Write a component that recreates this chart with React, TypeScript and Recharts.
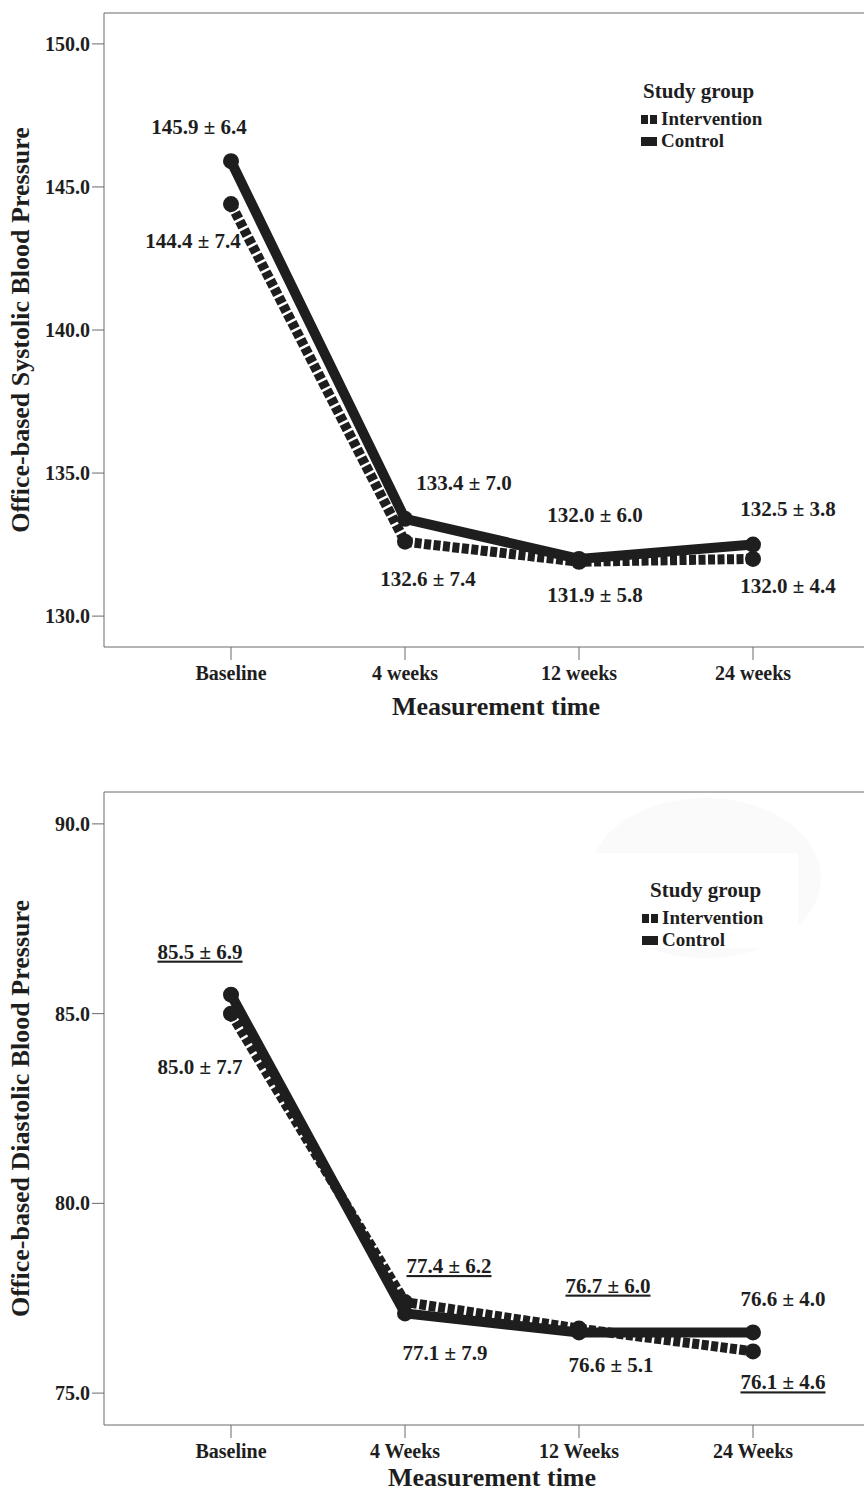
import { LabelList, Legend, Line, LineChart, ReferenceLine, XAxis, YAxis } from 'recharts'

const SERIF = '"Liberation Serif", "Times New Roman", Times, serif'
const INK = '#1e1e1e'
const AXIS_GREY = '#6a6a6a'

const groups = ['Intervention', 'Control']

// Systolic panel
const sbpTimes = ['Baseline', '4 weeks', '12 weeks', '24 weeks']
const sbpIntervention = [144.4, 132.6, 131.9, 132.0]
const sbpInterventionSd = [7.4, 7.4, 5.8, 4.4]
const sbpControl = [145.9, 133.4, 132.0, 132.5]
const sbpControlSd = [6.4, 7.0, 6.0, 3.8]
const sbpTicks = [130, 135, 140, 145, 150]

// Diastolic panel
const dbpTimes = ['Baseline', '4 Weeks', '12 Weeks', '24 Weeks']
const dbpIntervention = [85.0, 77.4, 76.7, 76.1]
const dbpInterventionSd = [7.7, 6.2, 6.0, 4.6]
const dbpControl = [85.5, 77.1, 76.6, 76.6]
const dbpControlSd = [6.9, 7.9, 5.1, 4.0]
const dbpTicks = [75, 80, 85, 90]
// underlined annotations in the diastolic panel
const dbpInterventionUnderline = [false, true, true, true]
const dbpControlUnderline = [true, false, false, false]

// where each "mean ± sd" note sits, relative to its point (text centre)
type Offset = [number, number]
const sbpInterventionOffsets: Offset[] = [[-38, 37], [23, 37], [16, 33], [35, 27]]
const sbpControlOffsets: Offset[] = [[-32, -34], [59, -36], [16, -44], [35, -36]]
const dbpInterventionOffsets: Offset[] = [[-31, 53], [44, -36], [29, -43], [30, 31]]
const dbpControlOffsets: Offset[] = [[-31, -43], [40, 40], [32, 33], [30, -33]]

const buildRows = (times: string[], intervention: number[], control: number[]) =>
  times.map((time, i) => ({ time, intervention: intervention[i], control: control[i] }))

const valueLabel =
  (values: number[], sds: number[], offsets: Offset[], underline?: boolean[]) => (props: any) => {
    const { x, y, index } = props
    if (x == null || y == null || index == null) return null
    const [dx, dy] = offsets[index]
    return (
      <text
        x={x + dx}
        y={y + dy + 7}
        textAnchor="middle"
        fontFamily={SERIF}
        fontSize={21}
        fontWeight="bold"
        fill={INK}
        textDecoration={underline?.[index] ? 'underline' : undefined}
      >
        {`${values[index].toFixed(1)} ± ${sds[index].toFixed(1)}`}
      </text>
    )
  }

function XTitle(props: any) {
  const vb = props.viewBox ?? {}
  const x = (vb.x ?? 104) + (vb.width ?? 760) / 2 + props.shift
  const y = (vb.y ?? 0) + props.drop
  return (
    <text x={x} y={y} textAnchor="middle" fontFamily={SERIF} fontSize={26} fontWeight="bold" fill={INK}>
      {props.title}
    </text>
  )
}

function YTitle(props: any) {
  const vb = props.viewBox ?? {}
  const x = (vb.x ?? 0) + 29
  const cy = (vb.y ?? 13) + (vb.height ?? 634) / 2
  return (
    <text
      x={x}
      y={cy}
      transform={`rotate(-90, ${x}, ${cy})`}
      textAnchor="middle"
      fontFamily={SERIF}
      fontSize={26}
      fontWeight="bold"
      fill={INK}
    >
      {props.title}
    </text>
  )
}

function Swatch({ dashed }: { dashed: boolean }) {
  if (dashed) {
    return (
      <span style={{ display: 'inline-flex', gap: 2, width: 16 }}>
        <span style={{ width: 7, height: 9, background: INK }} />
        <span style={{ width: 7, height: 9, background: INK }} />
      </span>
    )
  }
  return <span style={{ display: 'inline-block', width: 16, height: 9, background: INK }} />
}

function StudyGroupLegend({ payload, indent }: any) {
  const items = [...(payload ?? [])].sort(
    (a: any, b: any) => groups.indexOf(a.value) - groups.indexOf(b.value),
  )
  return (
    <div style={{ fontFamily: SERIF, fontWeight: 'bold', color: INK, width: 160, textAlign: 'left' }}>
      <div style={{ fontSize: 21, lineHeight: '24px', paddingLeft: indent, marginBottom: 5 }}>Study group</div>
      {items.map((item: any) => (
        <div
          key={item.value}
          style={{ display: 'flex', alignItems: 'center', fontSize: 19, lineHeight: '22px' }}
        >
          <Swatch dashed={item.value === 'Intervention'} />
          <span style={{ marginLeft: 4 }}>{item.value}</span>
        </div>
      ))}
    </div>
  )
}

type PanelProps = {
  times: string[]
  intervention: number[]
  interventionSd: number[]
  control: number[]
  controlSd: number[]
  interventionOffsets: Offset[]
  controlOffsets: Offset[]
  interventionUnderline?: boolean[]
  controlUnderline?: boolean[]
  ticks: number[]
  domain: [number, number]
  yTitle: string
  height: number
  axisHeight: number
  bottom: number
  xTitleDrop: number
  xTitleShift: number
  legendLeft: number
  legendTop: number
  legendIndent: number
}

function Panel(p: PanelProps) {
  const data = buildRows(p.times, p.intervention, p.control)
  const tickStyle = { fontFamily: SERIF, fontSize: 20, fontWeight: 'bold', fill: INK }

  return (
    <LineChart width={864} height={p.height} data={data} margin={{ top: 13, right: 0, bottom: p.bottom, left: 0 }}>
      <XAxis
        dataKey="time"
        padding={{ left: 127, right: 111 }}
        height={p.axisHeight}
        interval={0}
        tickSize={13}
        tickMargin={6}
        axisLine={{ stroke: AXIS_GREY }}
        tickLine={{ stroke: AXIS_GREY }}
        tick={tickStyle}
        label={<XTitle title="Measurement time" drop={p.xTitleDrop} shift={p.xTitleShift} />}
      />
      <YAxis
        type="number"
        domain={p.domain}
        allowDataOverflow
        ticks={p.ticks}
        tickFormatter={(v: number) => v.toFixed(1)}
        width={104}
        tickSize={12}
        tickMargin={2}
        axisLine={{ stroke: AXIS_GREY }}
        tickLine={{ stroke: AXIS_GREY }}
        tick={tickStyle}
        label={<YTitle title={p.yTitle} />}
      />
      <ReferenceLine y={p.domain[1]} stroke={AXIS_GREY} />
      <Legend
        layout="vertical"
        align="center"
        verticalAlign="middle"
        content={<StudyGroupLegend indent={p.legendIndent} />}
        wrapperStyle={{ left: p.legendLeft, top: p.legendTop, width: 160 }}
      />
      <Line
        dataKey="intervention"
        name="Intervention"
        stroke={INK}
        strokeWidth={10}
        strokeDasharray="7 2.5"
        dot={{ r: 8, fill: INK, stroke: 'none', strokeWidth: 0 }}
        activeDot={false}
        isAnimationActive={false}
      >
        <LabelList
          dataKey="intervention"
          content={valueLabel(p.intervention, p.interventionSd, p.interventionOffsets, p.interventionUnderline)}
        />
      </Line>
      <Line
        dataKey="control"
        name="Control"
        stroke={INK}
        strokeWidth={10}
        dot={{ r: 8, fill: INK, stroke: 'none', strokeWidth: 0 }}
        activeDot={false}
        isAnimationActive={false}
      >
        <LabelList
          dataKey="control"
          content={valueLabel(p.control, p.controlSd, p.controlOffsets, p.controlUnderline)}
        />
      </Line>
    </LineChart>
  )
}

export default function App() {
  return (
    <div style={{ position: 'absolute', left: 0, top: 0, width: 864, height: 1493, background: '#fff' }}>
      {/* faint smudge behind the lower legend, as in the scan */}
      <svg width={864} height={1493} style={{ position: 'absolute', left: 0, top: 0 }}>
        <ellipse cx={705} cy={878} rx={116} ry={80} fill="#fafafa" />
        <rect x={588} y={853} width={210} height={95} fill="#fff" />
      </svg>
      <div style={{ position: 'absolute', left: 0, top: 0 }}>
        <Panel
          times={sbpTimes}
          intervention={sbpIntervention}
          interventionSd={sbpInterventionSd}
          control={sbpControl}
          controlSd={sbpControlSd}
          interventionOffsets={sbpInterventionOffsets}
          controlOffsets={sbpControlOffsets}
          ticks={sbpTicks}
          domain={[128.92, 151.08]}
          yTitle="Office-based Systolic Blood Pressure"
          height={740}
          axisHeight={80}
          bottom={13}
          xTitleDrop={68}
          xTitleShift={12}
          legendLeft={641}
          legendTop={79}
          legendIndent={2}
        />
      </div>
      <div style={{ position: 'absolute', left: 0, top: 779 }}>
        <Panel
          times={dbpTimes}
          intervention={dbpIntervention}
          interventionSd={dbpInterventionSd}
          control={dbpControl}
          controlSd={dbpControlSd}
          interventionOffsets={dbpInterventionOffsets}
          controlOffsets={dbpControlOffsets}
          interventionUnderline={dbpInterventionUnderline}
          controlUnderline={dbpControlUnderline}
          ticks={dbpTicks}
          domain={[74.16, 90.84]}
          yTitle="Office-based Diastolic Blood Pressure"
          height={714}
          axisHeight={68}
          bottom={0}
          xTitleDrop={61}
          xTitleShift={8}
          legendLeft={642}
          legendTop={99}
          legendIndent={8}
        />
      </div>
    </div>
  )
}
